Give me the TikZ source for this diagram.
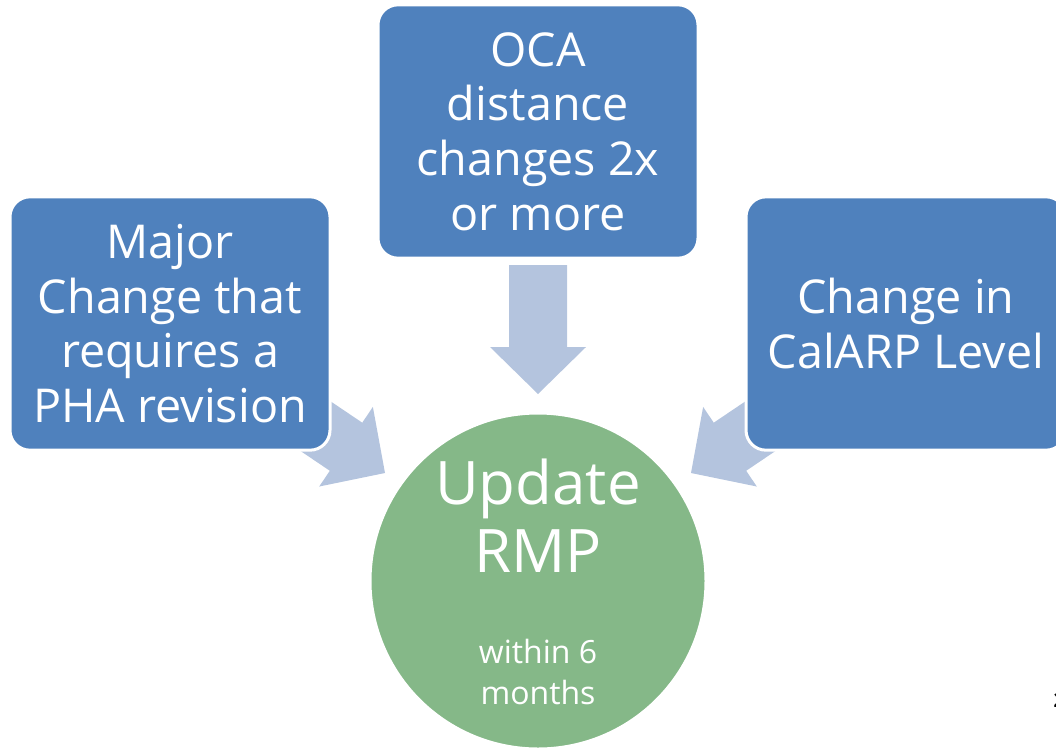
\documentclass[tikz,border=0pt]{standalone}
\usepackage{fontspec}
\setmainfont{Open Sans}
\usetikzlibrary{positioning}

\definecolor{boxblue}{RGB}{79,129,189}
\definecolor{arrowblue}{RGB}{180,196,222}
\definecolor{rmpgreen}{RGB}{133,184,136}

\begin{document}
\begin{tikzpicture}[x=0.75pt, y=-0.75pt,
        trigger/.style={rectangle, rounded corners=15pt, fill=boxblue, draw=white, line width=2.25pt,
            minimum width=240pt, minimum height=190pt, text=white, align=center,
            font=\fontsize{35}{41}\selectfont},
        goal/.style={circle, fill=rmpgreen, draw=white, line width=2.25pt, minimum size=252pt, inner sep=0pt},
        bigtext/.style={text=white, align=center, font=\fontsize{45}{51}\selectfont},
        smalltext/.style={text=white, align=center, font=\fontsize{24}{31}\selectfont}]
        \useasboundingbox (0,0) rectangle (1056,747);

        % block arrows, drawn first so the boxes sit on top
        \foreach \tx/\ty/\ang in {385/473/-34, 538/394/-90, 691/473/-146}
            \fill[arrowblue, shift={(\tx,\ty)}, rotate=\ang]
                (0,0) -- (-47,48) -- (-47,29) -- (-129,29) -- (-129,-29) -- (-47,-29) -- (-47,-48) -- cycle;

        \node[trigger] (pha) at (170, 323.5) {Major\\Change that\\requires a\\PHA revision};
        \node[trigger] (oca) at (538, 131.5) {OCA\\distance\\changes 2x\\or more};
        \node[trigger] (calarp) at (906, 323.5) {Change in\\CalARP Level};

        \node[goal] (rmp) at (538, 581) {};
        \node[bigtext] (rmptitle) at (538, 516) {Update\\RMP};
        \node[smalltext] (rmpdeadline) at (538, 672) {within 6\\months};

        \node[anchor=base west, font=\bfseries\fontsize{15}{18}\selectfont] (slideno) at (1049, 707) {2};
    \end{tikzpicture}
\end{document}
